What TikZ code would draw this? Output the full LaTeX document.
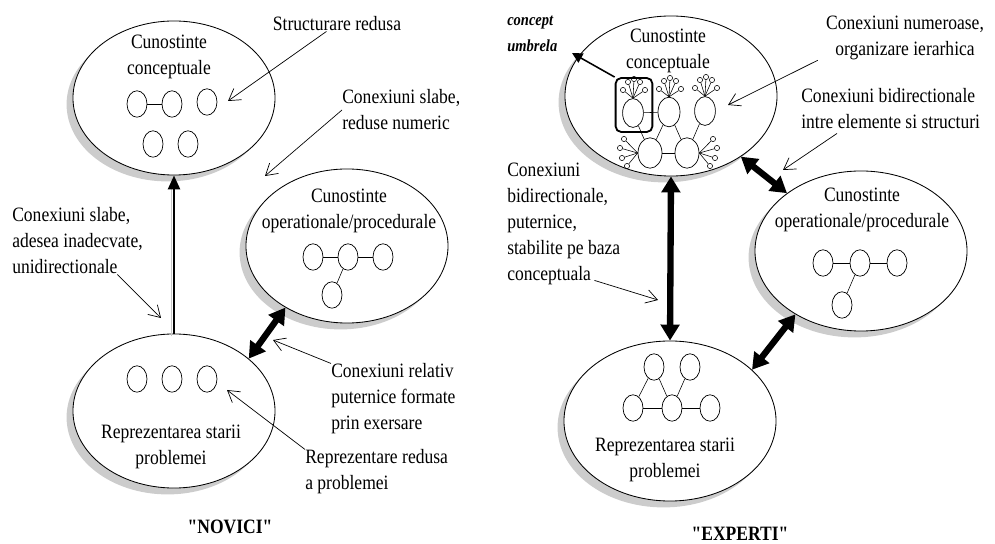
\documentclass[tikz,border=0pt]{standalone}
\usepackage{fontspec}
\setmainfont[FakeStretch=0.86]{Liberation Serif}
\newfontfamily\plainquotes[FakeStretch=0.86]{Liberation Serif}
\usetikzlibrary{shapes.geometric,shadows,arrows.meta}

\tikzset{
  bubble/.style={ellipse, draw, line width=0.6pt, fill=white, inner sep=0pt,
    drop shadow={shadow xshift=-0.16cm, shadow yshift=-0.16cm, fill=gray!40, opacity=1}},
  novice/.style={bubble, minimum width=5.05cm, minimum height=3.85cm},
  expert/.style={bubble, minimum width=5.3cm, minimum height=4cm},
  elem/.style={ellipse, draw, line width=0.5pt, inner sep=0pt, minimum width=0.5cm, minimum height=0.66cm},
  tiny/.style={circle, draw, line width=0.4pt, inner sep=0pt, minimum size=0.13cm},
  txt/.style={font=\fontsize{14.5}{18.5}\selectfont, align=center, inner sep=0pt},
  note/.style={txt, align=left},
  title/.style={txt, font=\fontsize{14.5}{18.5}\plainquotes\bfseries},
  pointer/.style={-{Straight Barb[length=2.8mm,width=3.4mm]}, line width=0.5pt},
  fatarrow/.style={{Triangle[length=4mm,width=4.6mm]}-{Triangle[length=4mm,width=4.6mm]}, line width=4.5pt},
  shade/.style={preaction={draw=gray!45, -, transform canvas={xshift=-2pt,yshift=-2pt}}},
}

\begin{document}
\begin{tikzpicture}[x=0.025cm,y=-0.025cm]
  \useasboundingbox (0,0) rectangle (995,544);

  % ---------------- NOVICI ----------------
  \node[novice] (nconc) at (174,98) {};
  \node[novice] (noper) at (347,246) {};
  \node[novice] (nprob) at (174,411) {};

  \node[txt] (nconct) at (169,57) {Cunostinte\\conceptuale};
  \node[txt] (nopert) at (349,211) {Cunostinte\\operationale/procedurale};
  \node[txt] (nprobt) at (171,447) {Reprezentarea starii\\problemei};

  % elements in conceptual knowledge
  \node[elem] (nc1) at (137,104) {};
  \node[elem] (nc2) at (172,104) {};
  \node[elem] (nc3) at (207,102) {};
  \node[elem] (nc4) at (153,144) {};
  \node[elem] (nc5) at (188,144) {};
  \draw (nc1) -- (nc2);

  % elements in operational knowledge
  \node[elem] (no1) at (313,257) {};
  \node[elem] (no2) at (348,257) {};
  \node[elem] (no3) at (383,257) {};
  \node[elem] (no4) at (332,295) {};
  \draw (no1) -- (no2) -- (no3);
  \draw (no4) -- (no2);

  % elements in problem representation
  \foreach \n/\x in {np1/137, np2/172, np3/207}
    \node[elem] (\n) at (\x,379) {};

  % connections
  \draw[-{Triangle[length=3.5mm,width=3mm]}, line width=1.8pt, shade] (nprob.north) -- (nconc.south);
  \draw[fatarrow] (nprob.35) -- (noper.225);

  % notes
  \node[txt] (lblA) at (337,24) {Structurare redusa};
  \coordinate (tipA) at (228,101);
  \draw[pointer] (lblA) -- (tipA);

  \node[note, anchor=west] (lblB) at (342,110) {Conexiuni slabe,\\reduse numeric};
  \coordinate (tipB) at (265,176);
  \draw[pointer] (lblB.west) -- (tipB);

  \node[note, anchor=west] (lblC) at (12,241) {Conexiuni slabe,\\adesea inadecvate,\\unidirectionale};
  \coordinate (tipC) at (161,318);
  \draw[pointer] (lblC.-40) -- (tipC);

  \node[note, anchor=west] (lblD) at (331,399) {Conexiuni relativ\\puternice formate\\prin exersare};
  \coordinate (tipD) at (273,340);
  \draw[pointer] (lblD.north west) -- (tipD);

  \node[note, anchor=west] (lblE) at (305,472) {Reprezentare redusa\\a problemei};
  \coordinate (tipE) at (227,390);
  \draw[pointer] (lblE.north west) -- (tipE);

  \node[title] (novici) at (230,527) {"NOVICI"};

  % ---------------- EXPERTI ----------------
  \node[expert] (econc) at (671,96) {};
  \node[expert] (eoper) at (861,251) {};
  \node[expert] (eprob) at (670,421) {};

  \node[txt] (econct) at (668,51) {Cunostinte\\conceptuale};
  \node[txt] (eopert) at (862,210) {Cunostinte\\operationale/procedurale};
  \node[txt] (eprobt) at (665,460) {Reprezentarea starii\\problemei};

  % hierarchy in conceptual knowledge
  \node[elem, minimum width=0.52cm, minimum height=0.72cm] (ua) at (633,113) {};
  \node[elem, minimum width=0.55cm, minimum height=0.74cm] (ub) at (669,112) {};
  \node[elem, minimum width=0.52cm, minimum height=0.72cm] (uc) at (705,111) {};
  \node[elem, minimum width=0.6cm, minimum height=0.76cm] (la) at (650,153) {};
  \node[elem, minimum width=0.6cm, minimum height=0.76cm] (lb) at (687,153) {};
  \draw (ua) -- (ub);
  \draw (la) -- (lb);
  \draw (ua) -- (la);
  \draw (ub) -- (la);
  \draw (ub) -- (lb);
  \draw (uc) -- (lb);
  \foreach \u in {ua,ub,uc}{
    \foreach \dx/\dy [count=\k] in {-10/-23,-5/-31,1/-34,7/-31,12/-23}{
      \node[tiny] (\u-\k) at ([shift={(\dx*0.025cm,-\dy*0.025cm)}]\u) {};
      \draw[line width=0.4pt] (\u-\k) -- (\u.north);
    }
  }
  \foreach \dx/\dy [count=\k] in {-26/-14,-30/-5,-28/5,-23/13}{
    \node[tiny] (la-\k) at ([shift={(\dx*0.025cm,-\dy*0.025cm)}]la) {};
    \draw[line width=0.4pt] (la-\k) -- (la.west);
    \node[tiny] (lb-\k) at ([shift={(-\dx*0.025cm,-\dy*0.025cm)}]lb) {};
    \draw[line width=0.4pt] (lb-\k) -- (lb.east);
  }
  \node[draw, rounded corners=4pt, line width=1.3pt, minimum width=0.92cm, minimum height=1.35cm] (umb) at (634,105) {};

  % elements in operational knowledge
  \node[elem] (eo1) at (823,263) {};
  \node[elem] (eo2) at (860,263) {};
  \node[elem] (eo3) at (897,263) {};
  \node[elem] (eo4) at (842,305) {};
  \draw (eo1) -- (eo2) -- (eo3);
  \draw (eo4) -- (eo2);

  % elements in problem representation
  \node[elem] (ep1) at (654,367) {};
  \node[elem] (ep2) at (690,367) {};
  \node[elem] (ep3) at (633,408) {};
  \node[elem] (ep4) at (672,408) {};
  \node[elem] (ep5) at (710,408) {};
  \draw (ep3) -- (ep4) -- (ep5);
  \draw (ep1) -- (ep3);
  \draw (ep1) -- (ep4);
  \draw (ep2) -- (ep4);

  % connections
  \draw[fatarrow] (econc.south) -- (eprob.north);
  \draw[fatarrow] (econc.319) -- (eoper.142);
  \draw[fatarrow] (eprob.32) -- (eoper.224);

  % notes
  \node[note, anchor=west, font=\fontsize{12}{18.5}\selectfont\bfseries\itshape] (lblU) at (507,34) {concept\\umbrela};
  \coordinate (tipU) at (572,53);
  \draw[-{Triangle[length=2.6mm,width=2.6mm]}, line width=1.1pt] (umb.north west) -- (tipU);

  \node[txt] (lblF) at (905,38) {Conexiuni numeroase,\\organizare ierarhica};
  \coordinate (tipF) at (728,105);
  \draw[pointer] ([xshift=-0.2cm]lblF.south west) -- (tipF);

  \node[note, anchor=west] (lblG) at (801,109) {Conexiuni bidirectionale\\intre elemente si structuri};
  \coordinate (tipG) at (783,170);
  \draw[pointer] ([xshift=0.9cm,yshift=-0.1cm]lblG.south west) -- (tipG);

  \node[note, anchor=west] (lblH) at (507,224) {Conexiuni\\bidirectionale,\\puternice,\\stabilite pe baza\\conceptuala};
  \coordinate (tipH) at (658,300);
  \draw[pointer] ([xshift=-0.65cm,yshift=0.12cm]lblH.south east) -- (tipH);

  \node[title] (experti) at (740,534) {"EXPERTI"};
\end{tikzpicture}
\end{document}
